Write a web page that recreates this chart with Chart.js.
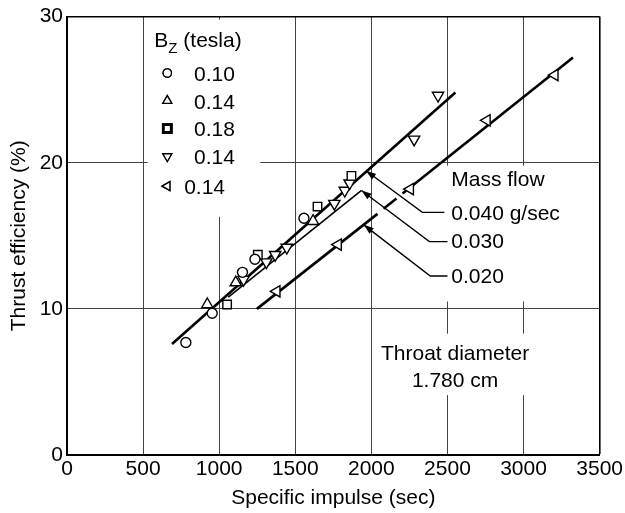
<!DOCTYPE html>
<html>
<head>
<meta charset="utf-8">
<script src="https://cdn.jsdelivr.net/npm/chart.js@4"></script>
<style>
  html, body { margin: 0; padding: 0; background: #fff; }
  #wrap { width: 625px; height: 513px; }
</style>
</head>
<body>
<div id="wrap"><canvas id="c" width="625" height="513"></canvas></div>
<script>
const FONT = "'Liberation Sans', Arial, sans-serif";

// axis ticks
const xTickValues = [0, 500, 1000, 1500, 2000, 2500, 3000, 3500];
const yTickValues = [0, 10, 20, 30];

// measured points [specific impulse, thrust efficiency], grouped by B_z
const bz010Circle = [[781, 7.7], [954, 9.7], [1153, 12.5], [1235, 13.4], [1557, 16.2]];
const bz014Up = [[922, 10.3], [1109, 11.8], [1617, 16.0]];
const bz018Square = [[1052, 10.3], [1254, 13.7], [1646, 17.0], [1869, 19.1]];
const bz014Down = [[1160, 12.0], [1310, 13.2], [1368, 13.7], [1444, 14.2], [1757, 17.2],
  [1825, 18.1], [1857, 18.6], [2281, 21.6], [2438, 24.6]];
const bz014Left = [[1378, 11.2], [1781, 14.4], [2255, 18.2], [2759, 22.9], [3205, 26.0]];

// fitted lines per mass flow
const flow040 = [[690, 7.6], [2552, 24.8]];
const flow030 = [[1060, 10.8], [1935, 18.1]];
const flow020a = [[1248, 10.0], [2040, 16.5]];
const flow020dash = [[2080, 16.85], [2165, 17.55]];
const flow020b = [[2205, 17.9], [3325, 27.2]];

// leader lines: tip, elbow, end
const lead040 = [[1965, 19.45], [2335, 16.6], [2480, 16.6]];
const lead030 = [[1935, 18.1], [2381, 14.6], [2500, 14.6]];
const lead020 = [[1950, 15.75], [2387, 12.25], [2500, 12.25]];

// texts
const massFlowTitle = "Mass flow";
const flowLabels = ["0.040 g/sec", "0.030", "0.020"];
const bzLabels = ["0.10", "0.14", "0.18", "0.14", "0.14"];
const throatText = ["Throat diameter", "1.780 cm"];

const toXY = (arr) => arr.map(([x, y]) => ({ x, y }));

function markSet(data, pointStyle, rotation, radius) {
  return {
    type: "scatter",
    data: toXY(data),
    pointStyle,
    rotation,
    pointRadius: radius,
    pointBorderColor: "#000",
    pointBackgroundColor: "#fff",
    pointBorderWidth: 1.4,
    showLine: false,
    order: 0,
  };
}

function lineSet(data, width) {
  return {
    type: "line",
    data: toXY(data),
    borderColor: "#000",
    borderWidth: width,
    pointRadius: 0,
    showLine: true,
    fill: false,
    order: 1,
  };
}

function drawMark(ctx, style, rotation, radius, x, y, bw) {
  ctx.save();
  ctx.strokeStyle = "#000";
  ctx.fillStyle = "#fff";
  ctx.lineWidth = bw;
  Chart.helpers.drawPoint(ctx, { pointStyle: style, rotation, radius, borderWidth: bw }, x, y);
  ctx.fill();
  ctx.stroke();
  ctx.restore();
}

function arrowHead(ctx, tx, ty, ex, ey) {
  const len = Math.hypot(tx - ex, ty - ey);
  const ux = (tx - ex) / len, uy = (ty - ey) / len;
  const bx = tx - ux * 10, by = ty - uy * 10;
  ctx.beginPath();
  ctx.moveTo(tx, ty);
  ctx.lineTo(bx - uy * 3.5, by + ux * 3.5);
  ctx.lineTo(bx + uy * 3.5, by - ux * 3.5);
  ctx.closePath();
  ctx.fill();
}

const annotate = {
  id: "annotate",
  beforeDatasetsDraw(chart) {
    const { ctx, scales: { x, y } } = chart;
    const blank = (x0, x1, y0, y1) => {
      const px0 = x.getPixelForValue(x0), px1 = x.getPixelForValue(x1);
      const py0 = y.getPixelForValue(y0), py1 = y.getPixelForValue(y1);
      ctx.fillRect(px0, py1, px1 - px0, py0 - py1);
    };
    ctx.save();
    ctx.fillStyle = "#fff";
    blank(530, 1270, 16.3, 29.8);   // legend
    blank(2433, 3480, 10.5, 19.8);  // mass flow labels
    blank(2015, 3110, 4.1, 8.3);    // throat diameter
    ctx.restore();
  },
  afterDatasetsDraw(chart) {
    const { ctx, scales: { x, y } } = chart;
    const px = (v) => x.getPixelForValue(v);
    const py = (v) => y.getPixelForValue(v);
    ctx.save();
    ctx.fillStyle = "#000";
    ctx.textBaseline = "middle";
    ctx.textAlign = "left";

    // leader arrows
    [lead040, lead030, lead020].forEach((ld) => {
      arrowHead(ctx, px(ld[0][0]), py(ld[0][1]), px(ld[1][0]), py(ld[1][1]));
    });

    ctx.font = "21px " + FONT;
    ctx.fillText(massFlowTitle, px(2525), py(18.8));
    ctx.fillText(flowLabels[0], px(2525), py(16.5));
    ctx.fillText(flowLabels[1], px(2525), py(14.55));
    ctx.fillText(flowLabels[2], px(2525), py(12.2));

    ctx.textAlign = "center";
    ctx.fillText(throatText[0], px(2550), py(6.9));
    ctx.fillText(throatText[1], px(2550), py(5.05));

    // B_z legend
    ctx.textAlign = "left";
    let bx = px(574);
    const by = py(28.3);
    ctx.fillText("B", bx, by);
    bx += ctx.measureText("B").width;
    ctx.font = "15px " + FONT;
    ctx.fillText("Z", bx, by + 7);
    bx += ctx.measureText("Z").width;
    ctx.font = "21px " + FONT;
    ctx.fillText(" (tesla)", bx, by);

    const rows = [26.07, 24.17, 22.27, 20.37, 18.33];
    const marks = [["circle", 0, 4.2, 1.3], ["triangle", 0, 5.2, 1.3], ["rect", 0, 5.6, 2.8],
      ["triangle", 180, 5.2, 1.3], ["triangle", 270, 5.2, 1.3]];
    rows.forEach((ry, i) => {
      const m = marks[i];
      drawMark(ctx, m[0], m[1], m[2], px(659), py(ry) - 1, m[3]);
      ctx.fillStyle = "#000";
      ctx.fillText(bzLabels[i], px(i === 4 ? 770 : 835), py(ry) + 1);
    });
    ctx.restore();
  },
};

const gridColor = (c) => {
  const v = c.tick.value;
  return v === 30 || v === 3500 ? "#000" : "#444";
};

new Chart(document.getElementById("c"), {
  type: "scatter",
  data: {
    datasets: [
      markSet(bz010Circle, "circle", 0, 5),
      markSet(bz014Up, "triangle", 0, 6.5),
      markSet(bz018Square, "rect", 0, 6),
      markSet(bz014Down, "triangle", 180, 6.5),
      markSet(bz014Left, "triangle", 270, 6.5),
      lineSet(flow040, 2.6),
      lineSet(flow030, 1.6),
      lineSet(flow020a, 2.6),
      lineSet(flow020dash, 2.6),
      lineSet(flow020b, 2.6),
      lineSet(lead040, 1.4),
      lineSet(lead030, 1.4),
      lineSet(lead020, 1.4),
    ],
  },
  options: {
    responsive: false,
    animation: false,
    devicePixelRatio: 1,
    layout: { padding: { top: 13, right: 22, left: 0, bottom: 0 } },
    plugins: { legend: { display: false }, tooltip: { enabled: false } },
    scales: {
      x: {
        type: "linear",
        min: 0,
        max: 3500,
        afterBuildTicks: (s) => { s.ticks = xTickValues.map((v) => ({ value: v })); },
        afterFit: (s) => { s.height = 58; },
        ticks: { color: "#000", font: { family: FONT, size: 21 }, padding: 2, maxRotation: 0,
          callback: (v) => String(v) },
        grid: { color: gridColor, lineWidth: (c) => (c.tick.value === 3500 ? 1.6 : 1), drawTicks: false },
        border: { color: "#000", width: 2 },
        title: { display: true, text: "Specific impulse (sec)", color: "#000",
          font: { family: FONT, size: 21 }, padding: { top: 0, bottom: 2 } },
      },
      y: {
        type: "linear",
        min: 0,
        max: 30,
        afterBuildTicks: (s) => { s.ticks = yTickValues.map((v) => ({ value: v })); },
        afterFit: (s) => { s.width = 67; },
        ticks: { color: "#000", font: { family: FONT, size: 21 }, padding: 4,
          callback: (v) => String(v) },
        grid: { color: gridColor, lineWidth: (c) => (c.tick.value === 30 ? 1.6 : 1), drawTicks: false },
        border: { color: "#000", width: 2 },
        title: { display: true, text: "Thrust efficiency (%)", color: "#000",
          font: { family: FONT, size: 21 }, padding: { top: 7, bottom: 0 } },
      },
    },
  },
  plugins: [annotate],
});
</script>
</body>
</html>
